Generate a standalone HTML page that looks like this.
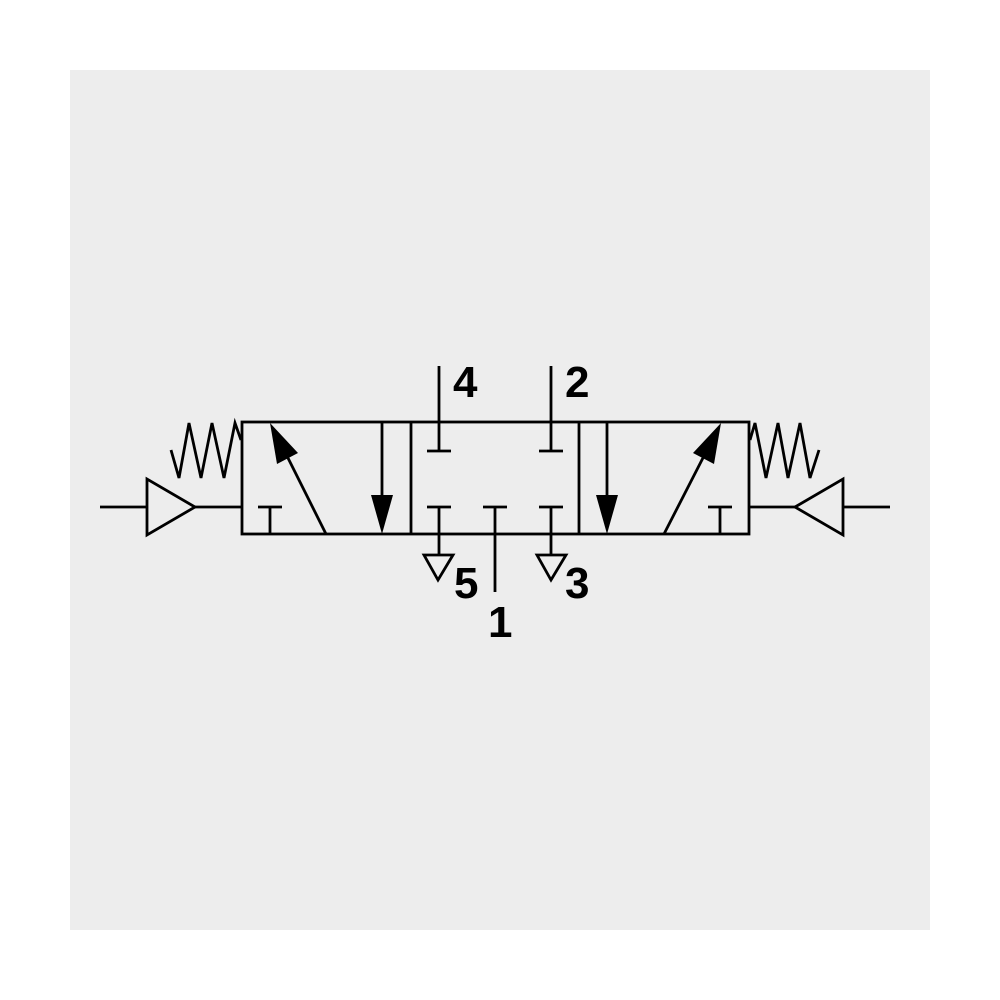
<!DOCTYPE html>
<html><head><style>body{margin:0;background:#fff}svg{display:block}</style></head>
<body>
<svg width="1000" height="1000" viewBox="0 0 1000 1000" xmlns="http://www.w3.org/2000/svg">
<rect x="70" y="70" width="860" height="860" fill="#ededed"/>
<g stroke="#000" stroke-width="2.8" fill="none" stroke-linecap="butt">
<rect x="242" y="422" width="507" height="112"/>
<line x1="411" y1="422" x2="411" y2="534"/>
<line x1="579" y1="422" x2="579" y2="534"/>
<line x1="439" y1="366" x2="439" y2="451"/><line x1="427" y1="451" x2="451" y2="451"/>
<line x1="551" y1="366" x2="551" y2="451"/><line x1="539" y1="451" x2="563" y2="451"/>
<line x1="427" y1="507" x2="451" y2="507"/><line x1="439" y1="507" x2="439" y2="555"/>
<polygon points="424,555 453,555 438,580" fill="#ededed"/>
<line x1="539" y1="507" x2="563" y2="507"/><line x1="551" y1="507" x2="551" y2="555"/>
<polygon points="537,555 566,555 551,580" fill="#ededed"/>
<line x1="483" y1="507" x2="507" y2="507"/><line x1="495" y1="507" x2="495" y2="592"/>
<line x1="258" y1="507" x2="282" y2="507"/><line x1="270" y1="507" x2="270" y2="534"/>
<line x1="708" y1="507" x2="732" y2="507"/><line x1="720" y1="507" x2="720" y2="534"/>
<line x1="382" y1="422" x2="382" y2="500"/>
<line x1="607" y1="422" x2="607" y2="500"/>
<line x1="326" y1="534" x2="285" y2="452"/>
<line x1="664" y1="534" x2="706" y2="452"/>
<line x1="100" y1="507" x2="147" y2="507"/>
<polygon points="147,479 147,535 195,507"/>
<line x1="195" y1="507" x2="242" y2="507"/>
<line x1="749" y1="507" x2="795" y2="507"/>
<polygon points="843,479 843,535 795,507"/>
<line x1="843" y1="507" x2="890" y2="507"/>
<polyline points="171,450 179,478 189,423 201,478 212,423 224,478 235,423 241,440"/>
<polyline points="750,440 755,423 766,478 778,423 788,478 800,423 810,478 819,450"/>
</g>
<g fill="#000">
<polygon points="371,495 393,495 382,534"/>
<polygon points="596,495 618,495 607,534"/>
<polygon points="270,423 298,453 277,464"/>
<polygon points="721,423 714,464 693,453"/>
</g>
<g font-family="Liberation Sans, sans-serif" font-weight="bold" font-size="44" fill="#000">
<text x="453" y="397">4</text>
<text x="565" y="397">2</text>
<text x="454" y="598">5</text>
<text x="565" y="598">3</text>
<text x="488" y="637">1</text>
</g>
</svg>
</body></html>
